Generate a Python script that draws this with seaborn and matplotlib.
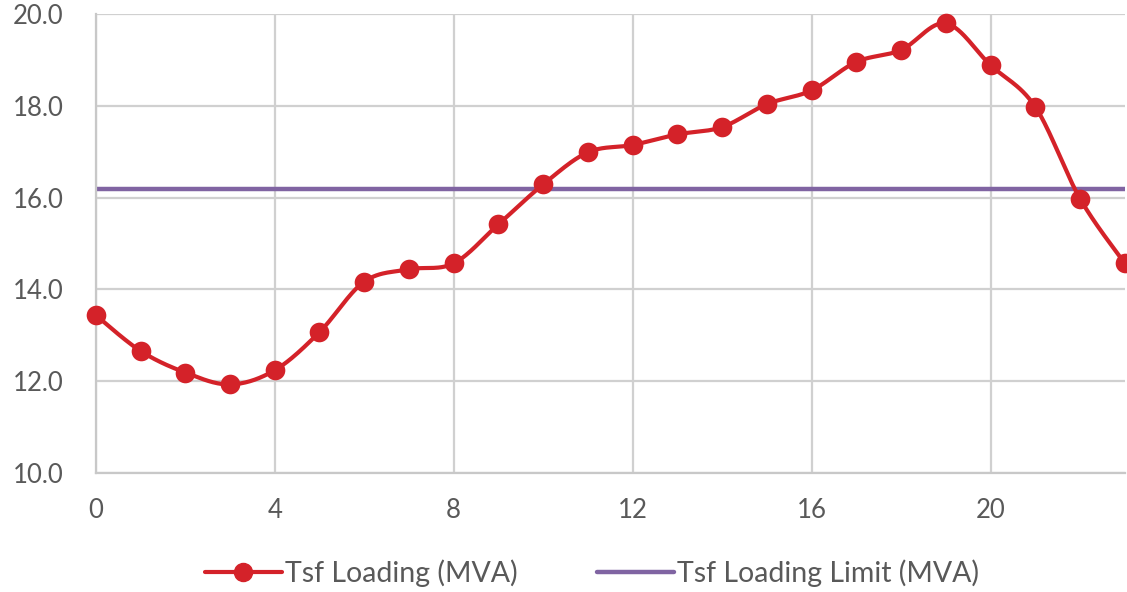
import numpy as np
import pandas as pd
import seaborn as sns
import matplotlib.pyplot as plt
from matplotlib.lines import Line2D

sns.set_theme(style="white")
plt.rcParams['font.family'] = ['Lato', 'DejaVu Sans']

hours = list(range(24))
loading = [13.44, 12.66, 12.19, 11.93, 12.24, 13.07, 14.17, 14.44, 14.57, 15.42,
           16.29, 16.99, 17.15, 17.38, 17.54, 18.04, 18.34, 18.96, 19.22, 19.80,
           18.89, 17.98, 15.98, 14.57]
limit = 16.2
labels = ['Tsf Loading (MVA)', 'Tsf Loading Limit (MVA)']

red = '#D42229'
purple = '#8064A2'
grey = '#595959'


def excel_smooth(x, y, n=30):
    # bezier smoothing like excel's "smoothed line"
    x = np.asarray(x, float)
    y = np.asarray(y, float)
    px, py = [], []
    for i in range(len(x) - 1):
        i0 = max(i - 1, 0)
        i3 = min(i + 2, len(x) - 1)
        c1x = x[i] + (x[i + 1] - x[i0]) / 6
        c1y = y[i] + (y[i + 1] - y[i0]) / 6
        c2x = x[i + 1] - (x[i3] - x[i]) / 6
        c2y = y[i + 1] - (y[i3] - y[i]) / 6
        t = np.linspace(0, 1, n)
        a, b, c, d = (1 - t) ** 3, 3 * t * (1 - t) ** 2, 3 * t ** 2 * (1 - t), t ** 3
        px.extend(a * x[i] + b * c1x + c * c2x + d * x[i + 1])
        py.extend(a * y[i] + b * c1y + c * c2y + d * y[i + 1])
    return np.array(px), np.array(py)


sx, sy = excel_smooth(hours, loading)
curve = pd.DataFrame({'x': sx, 'y': sy})
pts = pd.DataFrame({'hour': hours, 'mva': loading})

fig = plt.figure(figsize=(11.27, 5.92), dpi=100)
ax = fig.add_axes([0.085, 0.201, 0.913, 0.775])

ax.axhline(limit, color=purple, lw=3.2, zorder=2)
sns.lineplot(data=curve, x='x', y='y', sort=False, estimator=None, color=red, lw=3.0, ax=ax, zorder=3)
sns.scatterplot(data=pts, x='hour', y='mva', color=red, s=200, edgecolor=red, linewidth=0,
                ax=ax, zorder=4, clip_on=False)

ax.set_xlim(0, 23)
ax.set_ylim(10, 20)
ax.set_xticks(range(0, 24, 4))
ax.set_yticks(np.arange(10, 20.1, 2))
ax.set_yticklabels([f'{v:.1f}' for v in np.arange(10, 20.1, 2)])
ax.grid(True, color='#D0D0D0', lw=1.6)
ax.set_axisbelow(True)
for s in ['top', 'right']:
    ax.spines[s].set_visible(False)
for s in ['left', 'bottom']:
    ax.spines[s].set_color('#C8C8C8')
    ax.spines[s].set_linewidth(1.6)
ax.tick_params(axis='both', length=0, labelsize=18.5, labelcolor=grey)
ax.tick_params(axis='y', pad=23)
ax.tick_params(axis='x', pad=18)
ax.set_xlabel('')
ax.set_ylabel('')

handles = [Line2D([], [], color=red, lw=3, marker='o', markersize=13),
           Line2D([], [], color=purple, lw=3.2)]
fig.legend(handles, labels, loc='center', bbox_to_anchor=(0.525, 0.032), ncol=2, frameon=False,
           fontsize=20.5, labelcolor=grey, handlelength=2.7, handletextpad=0.1, columnspacing=2.8)

fig.savefig('out.png', dpi=100)
